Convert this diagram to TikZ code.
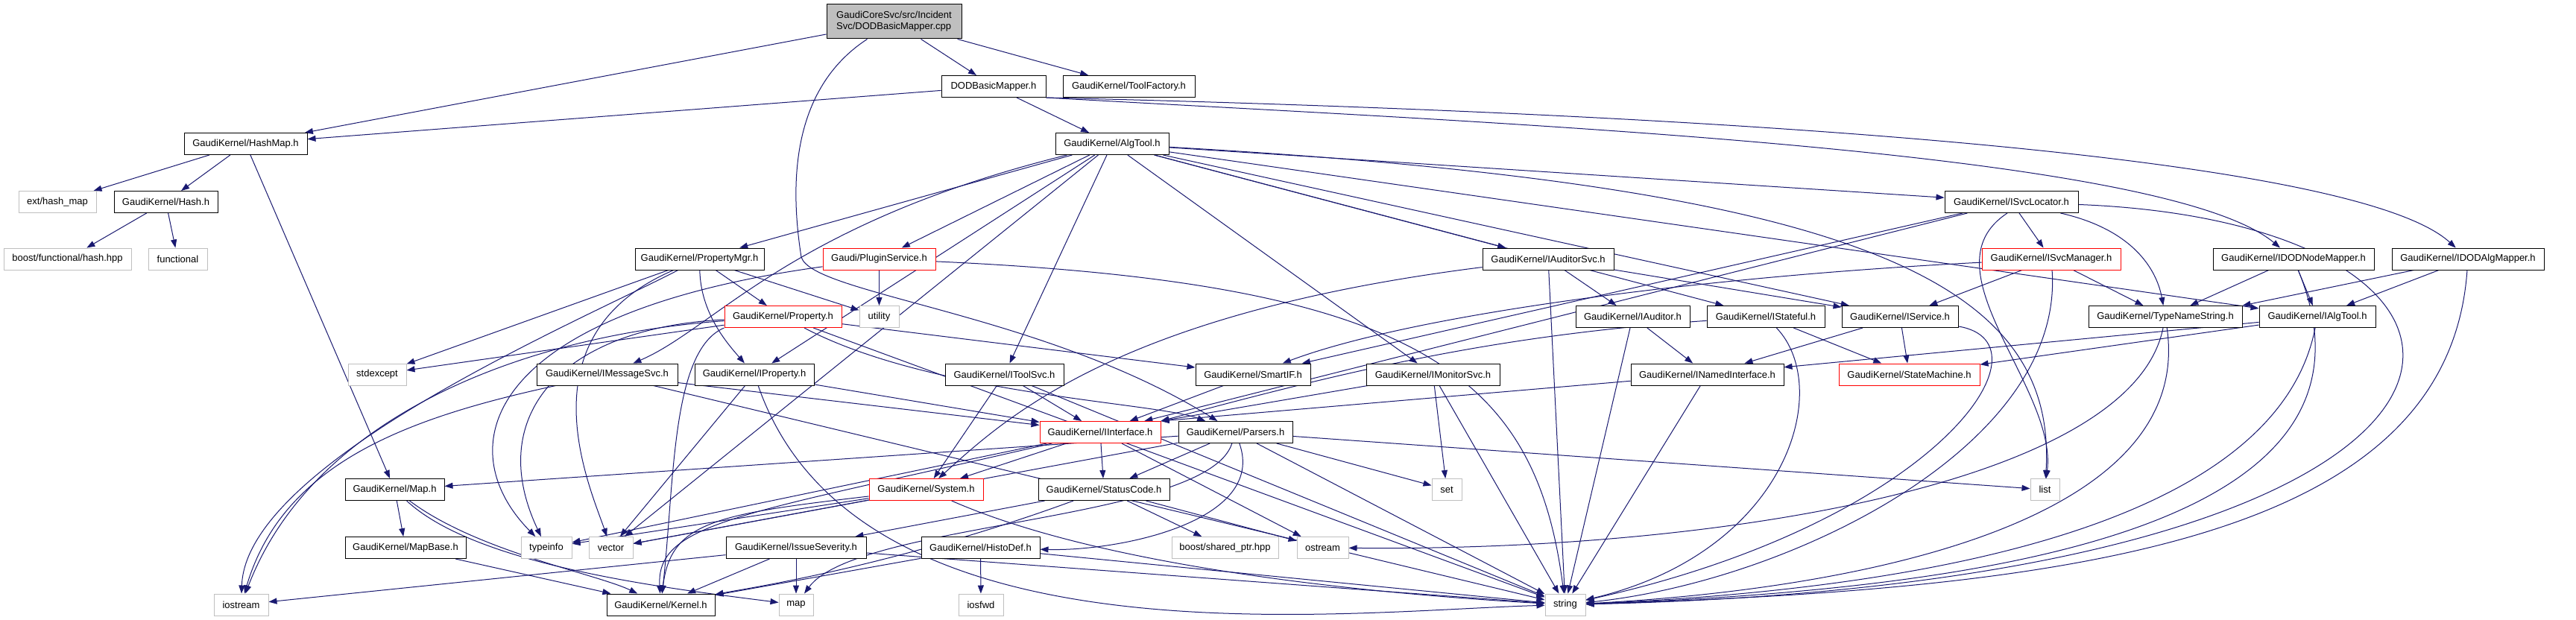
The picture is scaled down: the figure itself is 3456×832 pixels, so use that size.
\documentclass[tikz,border=0pt]{standalone}
\usepackage{fontspec}
\setmainfont{Liberation Sans}
\usetikzlibrary{arrows.meta,backgrounds}
\definecolor{edgeblue}{HTML}{191970}
\definecolor{extgray}{HTML}{BFBFBF}
\tikzset{
  hdr/.style={draw=black, line width=1pt, fill=white, minimum height=29pt, inner sep=0pt,
    font=\fontsize{13}{15}\selectfont},
  sysh/.style={hdr, draw=extgray},
  cuth/.style={hdr, draw=red},
  incl/.style={->, edgeblue, line width=1pt},
}
\begin{document}
\begin{tikzpicture}[x=1pt, y=1pt, >={Triangle[length=11pt,width=8pt]}]
\useasboundingbox (0,0) rectangle (3456,-832);

% the source file
\node[hdr, fill=extgray, minimum width=181, minimum height=46, align=left] (cpp) at (1199.5,-29)
  {GaudiCoreSvc/src/Incident\\Svc/DODBasicMapper.cpp};

% rank 1 and 2
\node[hdr, minimum width=140] (dodh) at (1333,-116) {DODBasicMapper.h};
\node[hdr, minimum width=177] (toolfac) at (1514.5,-116) {GaudiKernel/ToolFactory.h};
\node[hdr, minimum width=165] (hashmap) at (329.5,-193) {GaudiKernel/HashMap.h};
\node[hdr, minimum width=152] (algtool) at (1492,-193) {GaudiKernel/AlgTool.h};

% rank 3
\node[sysh, minimum width=104] (exthash) at (77,-271) {ext/hash\_map};
\node[hdr, minimum width=139] (hash) at (222.5,-271) {GaudiKernel/Hash.h};
\node[hdr, minimum width=179] (svcloc) at (2698.5,-271) {GaudiKernel/ISvcLocator.h};

% rank 4
\node[sysh, minimum width=171] (boosthash) at (90.5,-347.5) {boost/functional/hash.hpp};
\node[sysh, minimum width=79] (functional) at (238.5,-347.5) {functional};
\node[hdr, minimum width=173] (propmgr) at (938.5,-347.5) {GaudiKernel/PropertyMgr.h};
\node[cuth, minimum width=151] (plugin) at (1179.5,-347.5) {Gaudi/PluginService.h};
\node[hdr, minimum width=176] (auditorsvc) at (2077,-347.5) {GaudiKernel/IAuditorSvc.h};
\node[cuth, minimum width=186] (svcmgr) at (2752,-347.5) {GaudiKernel/ISvcManager.h};
\node[hdr, minimum width=216] (nodemapper) at (3077,-347.5) {GaudiKernel/IDODNodeMapper.h};
\node[hdr, minimum width=204] (algmapper) at (3311,-347.5) {GaudiKernel/IDODAlgMapper.h};

% rank 5
\node[cuth, minimum width=157] (property) at (1050.5,-425) {GaudiKernel/Property.h};
\node[sysh, minimum width=53] (utility) at (1179.5,-425) {utility};
\node[hdr, minimum width=153] (auditor) at (2190.5,-425) {GaudiKernel/IAuditor.h};
\node[hdr, minimum width=158] (stateful) at (2369,-425) {GaudiKernel/IStateful.h};
\node[hdr, minimum width=156] (service) at (2549,-425) {GaudiKernel/IService.h};
\node[hdr, minimum width=206] (typename) at (2905,-425) {GaudiKernel/TypeNameString.h};
\node[hdr, minimum width=156] (ialgtool) at (3109,-425) {GaudiKernel/IAlgTool.h};

% rank 6
\node[sysh, minimum width=78] (stdexcept) at (506,-502.5) {stdexcept};
\node[hdr, minimum width=189] (msgsvc) at (814.5,-502.5) {GaudiKernel/IMessageSvc.h};
\node[hdr, minimum width=160] (iproperty) at (1012,-502.5) {GaudiKernel/IProperty.h};
\node[hdr, minimum width=159] (toolsvc) at (1347.5,-502.5) {GaudiKernel/IToolSvc.h};
\node[hdr, minimum width=154] (smartif) at (1681,-502.5) {GaudiKernel/SmartIF.h};
\node[hdr, minimum width=179] (monitorsvc) at (1922.5,-502.5) {GaudiKernel/IMonitorSvc.h};
\node[hdr, minimum width=205] (named) at (2290.5,-502.5) {GaudiKernel/INamedInterface.h};
\node[cuth, minimum width=189] (statemachine) at (2561.5,-502.5) {GaudiKernel/StateMachine.h};

% rank 7
\node[cuth, minimum width=162] (iinterface) at (1476,-580) {GaudiKernel/IInterface.h};
\node[hdr, minimum width=153] (parsers) at (1657.5,-580) {GaudiKernel/Parsers.h};

% rank 8
\node[hdr, minimum width=133] (gkmap) at (529.5,-657) {GaudiKernel/Map.h};
\node[cuth, minimum width=153] (system) at (1242.5,-657) {GaudiKernel/System.h};
\node[hdr, minimum width=176] (statuscode) at (1481,-657) {GaudiKernel/StatusCode.h};
\node[sysh, minimum width=40] (set) at (1941,-657) {set};
\node[sysh, minimum width=39] (list) at (2743.5,-657) {list};

% rank 9
\node[hdr, minimum width=162] (mapbase) at (544,-735) {GaudiKernel/MapBase.h};
\node[sysh, minimum width=68] (typeinfo) at (733,-735) {typeinfo};
\node[sysh, minimum width=59] (vector) at (819.5,-735) {vector};
\node[hdr, minimum width=188] (issue) at (1068,-735) {GaudiKernel/IssueSeverity.h};
\node[hdr, minimum width=159] (histodef) at (1315.5,-735) {GaudiKernel/HistoDef.h};
\node[sysh, minimum width=143] (sharedptr) at (1643.5,-735) {boost/shared\_ptr.hpp};
\node[sysh, minimum width=69] (ostream) at (1774.5,-735) {ostream};

% rank 10
\node[sysh, minimum width=73] (iostream) at (323.5,-811.5) {iostream};
\node[hdr, minimum width=145] (kernel) at (886.5,-811.5) {GaudiKernel/Kernel.h};
\node[sysh, minimum width=46] (stdmap) at (1068,-811.5) {map};
\node[sysh, minimum width=60] (iosfwd) at (1316,-811.5) {iosfwd};
\node[sysh, minimum width=54] (string) at (2100,-811.5) {string};

\begin{pgfonlayer}{background}
\fill[white] (0,0) rectangle (3456,-832);

%% straight includes
\foreach \from/\to in {cpp/hashmap, cpp/dodh, cpp/toolfac, dodh/hashmap, dodh/algtool,
  hashmap/exthash, hashmap/hash, hashmap/gkmap, hash/boosthash, hash/functional,
  algtool/ialgtool, algtool/svcloc, algtool/auditorsvc, algtool/stateful, algtool/service,
  algtool/monitorsvc, algtool/toolsvc, algtool/iproperty, algtool/vector, algtool/propmgr,
  algtool/plugin, svcloc/iinterface, svcloc/smartif, svcloc/svcmgr,
  propmgr/stdexcept, propmgr/utility, propmgr/property, plugin/utility,
  auditorsvc/service, auditorsvc/auditor, auditorsvc/string, svcmgr/service, svcmgr/typename,
  nodemapper/typename, nodemapper/ialgtool, algmapper/ialgtool,
  property/stdexcept, property/smartif, property/string, auditor/named, auditor/string,
  stateful/statemachine, service/named, service/statemachine, ialgtool/named,
  ialgtool/statemachine, msgsvc/iinterface, msgsvc/string, iproperty/iinterface,
  iproperty/vector, toolsvc/iinterface, toolsvc/system, toolsvc/string, smartif/iinterface,
  monitorsvc/set, monitorsvc/string, named/string, iinterface/system, iinterface/statuscode,
  iinterface/typeinfo, iinterface/ostream, parsers/gkmap, parsers/statuscode, parsers/string,
  parsers/set, parsers/list, parsers/vector, gkmap/mapbase, mapbase/kernel,
  system/typeinfo, system/vector, statuscode/issue, statuscode/sharedptr, statuscode/ostream,
  issue/kernel, issue/stdmap, issue/iostream, issue/string, histodef/iosfwd,
  histodef/string, histodef/kernel}
  {
  \draw[incl] (\from) -- (\to);
  }

%% into the right corner of IInterface.h
\draw[incl] (monitorsvc) -- (iinterface.north east);
\draw[incl] (named) -- (iinterface.north east);
\draw[incl] (algmapper) -- (typename.north east);

%% bent includes
\draw[incl] (cpp) .. controls (1060,-120) and (1060,-250) .. (1075,-345)
  .. controls (1090,-395) and (1400,-420) .. (parsers);
\draw[incl] (dodh.south east) .. controls (2000,-165) and (2900,-200) .. (nodemapper);
\draw[incl] (dodh.south east) .. controls (2200,-150) and (3150,-200) .. (algmapper);
\draw[incl] (algtool) .. controls (2500,-250) and (2760,-380) .. (list);
\draw[incl] (algtool) .. controls (1060,-300) and (960,-440) .. (msgsvc);
\draw[incl] (svcloc.250) .. controls (2580,-360) and (2760,-520) .. (list);
\draw[incl] (svcloc) .. controls (2870,-310) and (2895,-370) .. (typename);
\draw[incl] (svcloc) .. controls (3450,-300) and (3450,-780) .. (string);
\draw[incl] (propmgr) .. controls (940,-420) and (975,-460) .. (iproperty);
\draw[incl] (propmgr) .. controls (700,-450) and (790,-650) .. (vector);
\draw[incl] (propmgr) .. controls (780,-430) and (330,-620) .. (iostream);
\draw[incl] (plugin) .. controls (650,-420) and (600,-600) .. (typeinfo);
\draw[incl] (plugin) .. controls (1900,-380) and (2060,-500) .. (string);
\draw[incl] (auditorsvc) .. controls (1500,-420) and (1350,-560) .. (system);
\draw[incl] (svcmgr) .. controls (2300,-370) and (1900,-420) .. (smartif);
\draw[incl] (svcmgr) .. controls (2770,-600) and (2400,-780) .. (string);
\draw[incl] (nodemapper) .. controls (3223,-700) and (2700,-790) .. (string);
\draw[incl] (algmapper) .. controls (3285,-720) and (2800,-790) .. (string);
\draw[incl] (property) .. controls (750,-440) and (650,-560) .. (typeinfo);
\draw[incl] (property) .. controls (700,-450) and (420,-560) .. (iostream);
\draw[incl] (property.south west) .. controls (900,-470) and (905,-650) .. (kernel);
\draw[incl] (property) .. controls (1250,-530) and (1550,-540) .. (parsers);
\draw[incl] (stateful) .. controls (2000,-450) and (1800,-500) .. (iinterface.north east);
\draw[incl] (stateful) .. controls (2460,-520) and (2400,-740) .. (string);
\draw[incl] (service) .. controls (2760,-460) and (2600,-700) .. (string);
\draw[incl] (typename) .. controls (2945,-700) and (2500,-790) .. (string);
\draw[incl] (typename) .. controls (2860,-650) and (2300,-740) .. (ostream);
\draw[incl] (ialgtool) .. controls (3055,-700) and (2600,-790) .. (string);
\draw[incl] (msgsvc) .. controls (550,-560) and (380,-620) .. (iostream);
\draw[incl] (iproperty) .. controls (1150,-900) and (1800,-820) .. (string);
\draw[incl] (iinterface) .. controls (1000,-690) and (880,-700) .. (kernel);
\draw[incl] (parsers) .. controls (1700,-700) and (1500,-740) .. (histodef);
\draw[incl] (parsers) .. controls (1620,-700) and (1150,-700) .. (stdmap);
\draw[incl] (gkmap) .. controls (640,-740) and (800,-770) .. (kernel);
\draw[incl] (gkmap) .. controls (640,-760) and (900,-790) .. (stdmap);
\draw[incl] (system) .. controls (1500,-770) and (1900,-800) .. (string);
\draw[incl] (system) .. controls (960,-690) and (900,-700) .. (kernel);
\draw[incl] (statuscode) .. controls (1200,-760) and (1000,-790) .. (kernel);
\end{pgfonlayer}

\end{tikzpicture}
\end{document}
